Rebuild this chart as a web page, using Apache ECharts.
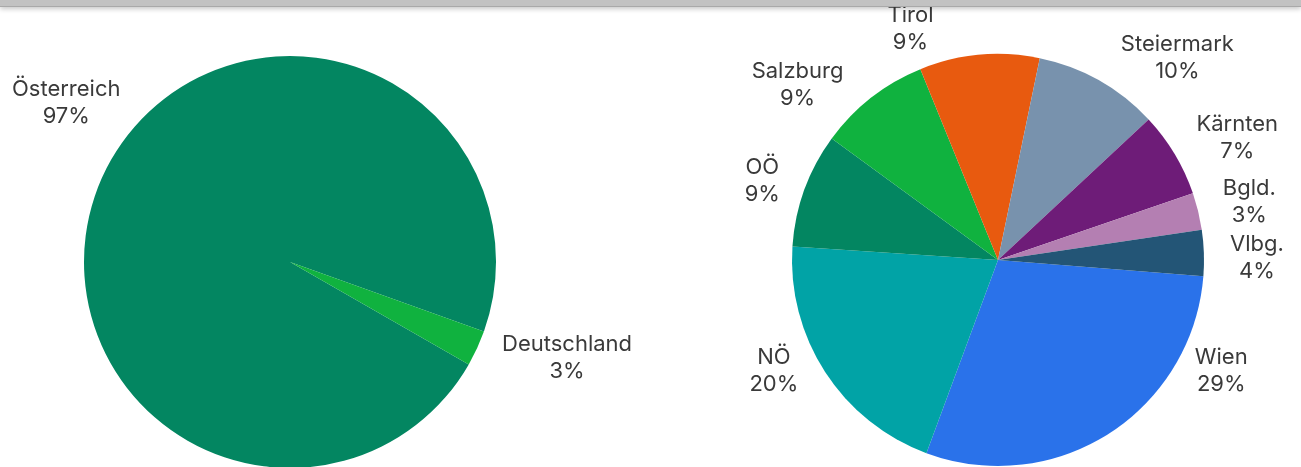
<!DOCTYPE html>
<html>
<head>
<meta charset="utf-8">
<title>Pie charts</title>
<script src="https://cdn.jsdelivr.net/npm/echarts@6/dist/echarts.min.js"></script>
<style>
  html, body { margin: 0; padding: 0; background: #fff; }
  #chart { width: 1301px; height: 467px; }
  .topbar {
    position: absolute; left: 0; top: 0; width: 1301px; height: 6px;
    background: #c2c2c2; border-bottom: 1px solid #a9a9a9;
    box-shadow: 0 2px 5px rgba(0, 0, 0, 0.22);
  }
</style>
</head>
<body>
<div id="chart"></div>
<div class="topbar"></div>
<script>
// left pie: country
const countryNames = ['Österreich', 'Deutschland']
const countryValues = [97.2, 2.8]
const countryColors = ['#038661', '#10b23f']

// right pie: federal state
const stateNames = ['Wien', 'NÖ', 'OÖ', 'Salzburg', 'Tirol', 'Steiermark', 'Kärnten', 'Bgld.', 'Vlbg.']
const stateValues = [29.4, 20.4, 9.0, 8.8, 9.4, 9.8, 6.7, 2.9, 3.6]
const stateColors = ['#2a72ea', '#01a3a6', '#038661', '#10b23f', '#e85a0f', '#7892ad', '#6e1c78', '#b47fb2', '#235576']

const leftCenter = [290, 262]
const rightCenter = [998, 260]
const pieRadius = 206
const edgeMargin = 12
const labelBottom = 398
const labelGap = 8

function toData(names, values, colors) {
  return names.map((name, i) => ({
    name,
    value: values[i],
    itemStyle: { color: colors[i] }
  }))
}

const labelStyle = {
  show: true,
  position: 'outside',
  color: '#3a3a3a',
  fontFamily: 'Inter',
  fontSize: 22,
  lineHeight: 27,
  bleedMargin: -300,
  formatter: (p) => `{c|${p.name}}\n{c|${Math.round(p.percent)}%}`,
  rich: {
    c: { align: 'center', fontFamily: 'Inter', fontSize: 22, lineHeight: 27, color: '#3a3a3a' }
  }
}

// a label that runs off the left edge slides up along its circle until it fits
function fitInside(params) {
  const box = params.labelRect
  if (box.x >= edgeMargin) return {}
  const [cx, cy] = leftCenter
  const ax = box.x + box.width
  const ay = box.y + box.height / 2
  const R = Math.hypot(ax - cx, ay - cy)
  const nx = edgeMargin + box.width
  const ny = cy - Math.sqrt(R * R - (nx - cx) ** 2)
  return { x: nx, y: ny, align: 'right', verticalAlign: 'middle' }
}

// keep labels above labelBottom and clear of the pie itself
function keepClear(params) {
  const box = params.labelRect
  const [cx, cy] = rightCenter
  let y = Math.min(box.y, labelBottom - box.height)
  let x = box.x
  const onRight = box.x + box.width / 2 > cx
  const dy = Math.max(0, y - cy, cy - (y + box.height))
  const clear = pieRadius + labelGap
  if (dy < clear) {
    const half = Math.sqrt(clear * clear - dy * dy)
    if (onRight) x = Math.max(x, cx + half)
    else x = Math.min(x + box.width, cx - half) - box.width
  }
  return { x, y, align: 'left', verticalAlign: 'top' }
}

const chart = echarts.init(document.getElementById('chart'))

chart.setOption({
  animation: false,
  series: [
    {
      type: 'pie',
      center: leftCenter,
      radius: pieRadius,
      startAngle: -29.8,
      clockwise: true,
      data: toData(countryNames, countryValues, countryColors),
      label: labelStyle,
      labelLine: { show: false, length: 22, length2: 0 },
      labelLayout: fitInside,
      emphasis: { disabled: true }
    },
    {
      type: 'pie',
      center: rightCenter,
      radius: pieRadius,
      startAngle: -4.5,
      clockwise: true,
      data: toData(stateNames, stateValues, stateColors),
      label: labelStyle,
      labelLine: { show: false, length: 26, length2: 0 },
      labelLayout: keepClear,
      emphasis: { disabled: true }
    }
  ]
})
</script>
</body>
</html>
